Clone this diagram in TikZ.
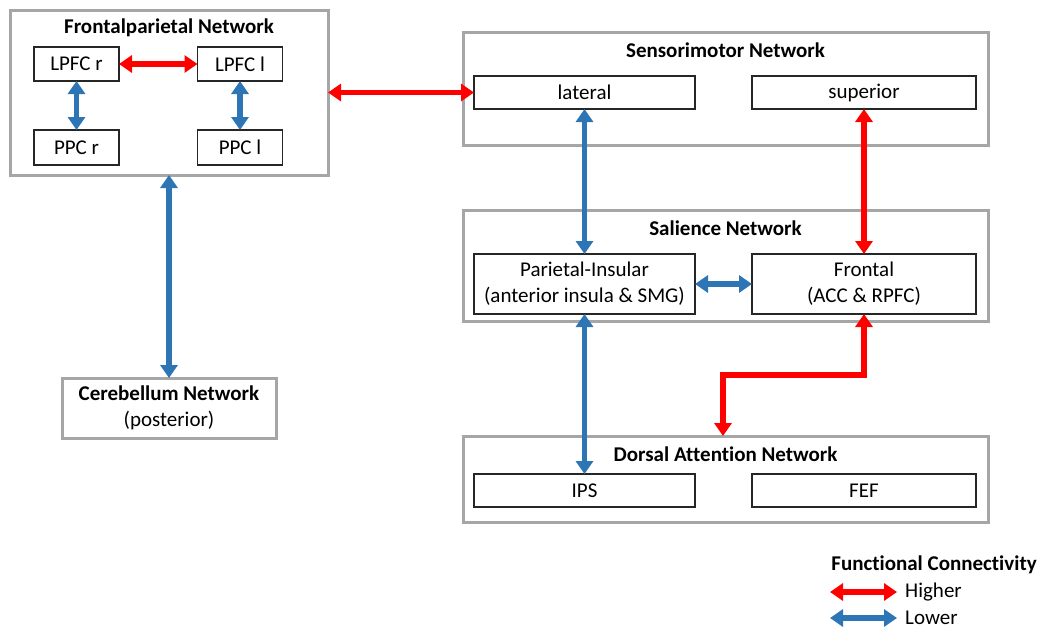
\documentclass[tikz,border=0pt]{standalone}
\usepackage{fontspec}
\setmainfont{Carlito}[Ligatures=NoCommon]
\usetikzlibrary{positioning}
\usetikzlibrary{arrows.meta}
\definecolor{netgray}{RGB}{166,166,166}
\definecolor{lowblue}{RGB}{46,117,182}
\definecolor{hired}{RGB}{255,0,0}
\tikzset{
    netbox/.style = {rectangle, draw=netgray, line width=3pt, inner sep=0pt, outer sep=0pt},
    regbox/.style = {rectangle, draw=black!85, line width=1.3pt, fill=white, inner sep=0pt, outer sep=0pt, align=center},
    nettitle/.style = {font=\bfseries, inner sep=0pt},
    edger/.style = {{Triangle[width=17pt,length=13pt]}-{Triangle[width=17pt,length=13pt]},line width=5.5pt,hired},
    edgeb/.style = {{Triangle[width=17pt,length=13pt]}-{Triangle[width=17pt,length=13pt]},line width=5.5pt,lowblue},
    every picture/.style={font issue=\fontsize{21}{26}},
    font issue/.style={execute at begin picture={#1\selectfont}
  }
}

\begin{document}
\begin{tikzpicture}[x=1pt,y=-1pt]
\useasboundingbox (0,0) rectangle (1041,630);
%
% Frontalparietal
\node[netbox, minimum width=318pt, minimum height=165pt] at (169, 92.5) (fpn) {};
\node[nettitle] at (169, 28) (fpntitle) {Frontalparietal Network};
\node[regbox, minimum width=85pt, minimum height=34pt] at (76.5, 64) (lpfcr) {LPFC r};
\node[regbox, minimum width=85pt, minimum height=34pt] at (240, 64) (lpfcl) {LPFC l};
\node[regbox, minimum width=85pt, minimum height=35pt] at (76.5, 147.5) (ppcr) {PPC r};
\node[regbox, minimum width=85pt, minimum height=35pt] at (240, 147.5) (ppcl) {PPC l};
%
% Cerebellum
\node[netbox, minimum width=214pt, minimum height=60pt, align=center] at (169, 408) (cer) {\textbf{Cerebellum Network}\\(posterior)};
%
% Sensorimotor
\node[netbox, minimum width=525pt, minimum height=113pt] at (725.5, 88.5) (smn) {};
\node[nettitle] at (725.5, 50) (smntitle) {Sensorimotor Network};
\node[regbox, minimum width=221pt, minimum height=33pt] at (584.5, 92.5) (lat) {lateral};
\node[regbox, minimum width=224pt, minimum height=33pt] at (864, 92.5) (sup) {superior};
%
% Salience
\node[netbox, minimum width=525pt, minimum height=111pt] at (725.5, 265.5) (sal) {};
\node[nettitle] at (725.5, 228) (saltitle) {Salience Network};
\node[regbox, minimum width=221pt, minimum height=60pt] at (584.5, 284) (pari) {Parietal-Insular\\(anterior insula \& SMG)};
\node[regbox, minimum width=224pt, minimum height=60pt] at (864, 284) (fro) {Frontal\\(ACC \& RPFC)};
%
% Dorsal Attention
\node[netbox, minimum width=525pt, minimum height=86pt] at (725.5, 479) (dan) {};
\node[nettitle] at (725.5, 454) (dantitle) {Dorsal Attention Network};
\node[regbox, minimum width=221pt, minimum height=33pt] at (584.5, 490.5) (ips) {IPS};
\node[regbox, minimum width=224pt, minimum height=33pt] at (864, 490.5) (fef) {FEF};
%
% legend
\node[nettitle] at (934, 565) (legtitle) {Functional Connectivity};
\coordinate (hia) at (830, 592);
\coordinate (hib) at (897, 592);
\coordinate (loa) at (830, 618);
\coordinate (lob) at (897, 618);
\node[anchor=west, inner sep=0pt] at (905, 592) (hitext) {Higher};
\node[anchor=west, inner sep=0pt] at (905, 618) (lotext) {Lower};
%
\draw[edger] (lpfcr) edge (lpfcl);
\draw[edgeb] (lpfcr) edge (ppcr);
\draw[edgeb] (lpfcl) edge (ppcl);
\draw[edger] (fpn) edge (lat);
\draw[edgeb] (fpn) edge (cer);
\draw[edgeb] (lat) edge (pari);
\draw[edger] (sup) edge (fro);
\draw[edgeb] (pari) edge (fro);
\draw[edgeb] (pari) edge (ips);
\coordinate (bend) at (723, 375);
\draw[edger] (fro.south) |- (bend) -- (bend |- dan.north);
\draw[edger] (hia) -- (hib);
\draw[edgeb] (loa) -- (lob);

\end{tikzpicture}
\end{document}
